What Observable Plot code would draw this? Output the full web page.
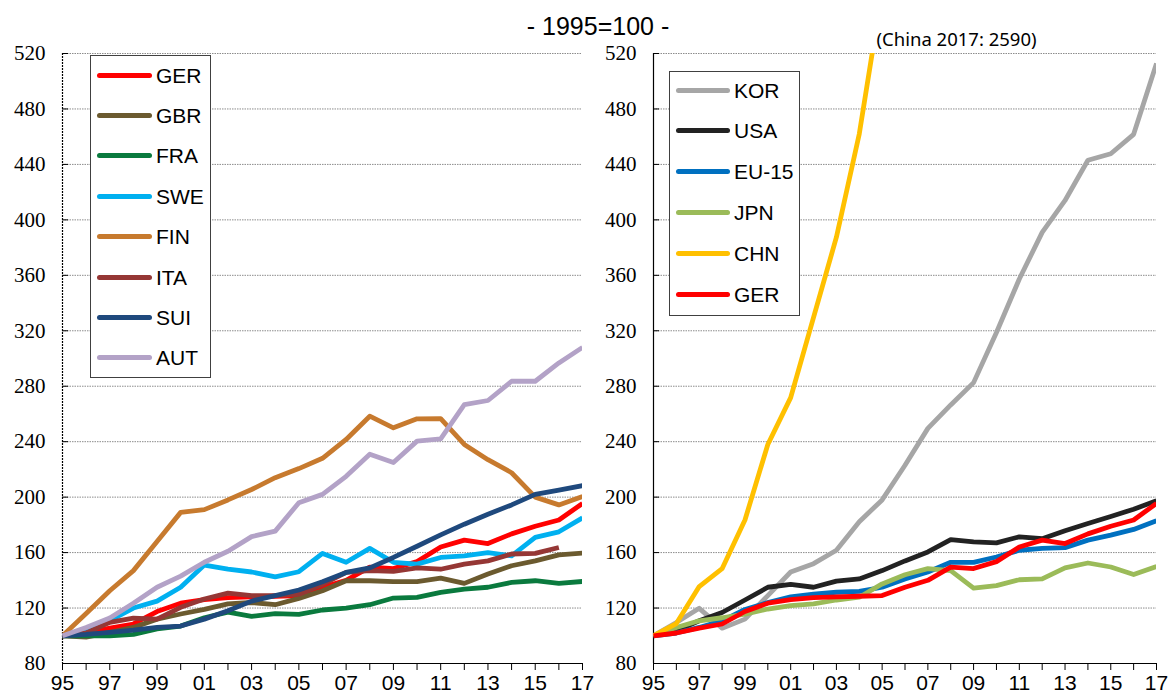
<!DOCTYPE html>
<html><head><meta charset="utf-8">
<script src="https://cdn.jsdelivr.net/npm/d3@7"></script>
<script src="https://cdn.jsdelivr.net/npm/@observablehq/plot@0.6"></script>
<style>
body{margin:0;background:#fff;font-family:"Liberation Sans",Arial,sans-serif;}
#wrap{position:relative;width:1172px;height:697px;overflow:hidden;background:#fff;}
#left{position:absolute;left:0;top:0;}
#right{position:absolute;left:600px;top:0;}
#title{position:absolute;top:14px;left:598px;transform:translateX(-50%);font-size:25px;line-height:25px;white-space:nowrap;color:#000;}
.legend{position:absolute;border:1px solid #404040;background:#fff;box-sizing:border-box;}
.row{display:flex;align-items:center;position:absolute;left:0;}
.sw{display:inline-block;height:5px;border-radius:3px;}
.lab{font-size:21px;line-height:21px;margin-left:4px;color:#000;}
</style></head><body>
<div id="wrap">
 <div id="left"></div><div id="right"></div>
 <div id="title">- 1995=100 -</div>
 <div id="legL" class="legend"></div><div id="legR" class="legend"></div>
</div>
<script>
const years = d3.range(1995, 2018);
const yTicks = d3.range(80, 521, 40);
const chinaNote = "(China 2017: 2590)";

// Left panel (index 1995 = 100)
const GER = [100,102,105.5,108.5,117.5,123.5,126,127.5,128,128.5,129,135,140,149.5,148.5,153.5,164,169,166.5,173.5,179,183.5,195.5];
const GBR = [100,99,102.5,106,112,115.7,119,123,124,122.4,127,132.5,139.7,139.7,139,139,141.6,137.8,144.5,150.5,154,158.4,159.6];
const FRA = [100,100,100,101,105,107,113,117,114,116,115.4,118.6,120,122.4,127.2,127.7,131.3,133.7,135,138.5,139.7,137.8,139.2];
const SWE = [100,105,111,120,125,135,151,148,146,142.5,146.2,159.4,153,163,153,151.7,156.5,157.7,160,157.7,171,175,185];
const FIN = [100,116,132.5,147,168,189,191,198,205.5,214,220.6,228,241.6,258.4,250,256.5,256.7,238,227,217.6,200,194.4,200.4];
const ITA = [100,102,109.7,112.8,112,120.5,126.5,130.8,129,129,130,137,145.7,147,146.4,149,148,151.7,154,159,159.4,163.7];
const SUI = [100,101,102.5,104,106,107,112,118,125,129,133,139,145.7,149,156.5,164.6,172.8,180.5,187.7,194.4,202,205,208.3];
const AUT = [100,106,112.8,123.4,135,143,153,161,171.5,175.5,196,202,215,231,225,240.4,242,266.8,269.7,283.6,283.6,296.8,308];

// Right panel
const KOR = [100,109.6,119.8,105.5,112,129,146,152,161.7,182.3,198,223,249.6,266.5,282.6,318.8,357.3,391,414,443,447.7,461.7,512.8];
const USA = [100,103.5,110.8,116.8,125.8,135,137,135,139.4,141,147,154,160.5,169.4,167.8,167,171.4,170,175.8,181,186,191.3,197.3];
const EU15 = [100,102,106,110.8,119,124,128,130,131.4,132,135,141,146,153,153,156.8,161.7,163,163.6,169,172.6,176.7,183];
const JPN = [100,106,110.8,113,115.6,119.3,121.7,123,125.8,127.8,137.4,144,148.4,147,134.3,136.2,140.4,141,149,152.5,149.6,144.2,150];
const CHN = [100,108.8,135.5,148.4,183.5,238,271.8,329.6,387.5,462,565];

const leftNames = ["GER","GBR","FRA","SWE","FIN","ITA","SUI","AUT"];
const leftValues = [GER,GBR,FRA,SWE,FIN,ITA,SUI,AUT];
const leftColors = ["#ff0000","#6b5a2f","#0a7a3e","#00b0f0","#c77a2e","#953735","#1f497d","#b3a2c7"];

const rightNames = ["KOR","USA","EU-15","JPN","CHN","GER"];
const rightValues = [KOR,USA,EU15,JPN,CHN,GER];
const rightColors = ["#a6a6a6","#222222","#0070c0","#9bbb59","#ffc000","#ff0000"];

function toRows(names, values){
  return names.flatMap((n,i)=> values[i].map((v,j)=>({series:n, year: years[j], value: v})));
}

const serif = '"Liberation Serif","Times New Roman",serif';
const sans = '"Liberation Sans",Arial,sans-serif';

function panel({names, values, colors, width, marginLeft, marginRight, axisDash, extra}) {
  const rows = toRows(names, values);
  const fw = width - marginLeft - marginRight;
  return Plot.plot({
    width, height: 697, marginTop: 53, marginBottom: 34, marginLeft, marginRight,
    x: {domain: [1995, 2017]},
    y: {domain: [80, 520]},
    color: {domain: names, range: colors},
    style: {background: "white", color: "black", overflow: "visible"},
    marks: [
      Plot.ruleY(yTicks.slice(1), {stroke: "#8c8c8c", strokeWidth: 1, strokeDasharray: "1.5,1"}),
      Plot.tickY(yTicks, {y: d => d, stroke: "#000", insetRight: fw - 6}),
      Plot.axisY({ticks: yTicks, tickSize: 0, tickPadding: 17, fontSize: 21, fontFamily: serif, label: null}),
      Plot.axisX({ticks: years, tickSize: 7, tickPadding: 5, tickFormat: d => d % 2 ? String(d).slice(2) : "", fontSize: 21, fontFamily: sans, label: null}),
      Plot.ruleX([1995], {stroke: "#000", strokeWidth: 1.2, strokeDasharray: axisDash}),
      Plot.ruleY([80], {stroke: "#000", strokeWidth: 1.2}),
      Plot.line(rows, {x: "year", y: "value", z: "series", stroke: "series", strokeWidth: 4.8, strokeLinejoin: "round", strokeLinecap: "butt", clip: true}),
      ...(extra || [])
    ]
  });
}

document.getElementById("left").append(panel({
  names: leftNames, values: leftValues, colors: leftColors,
  width: 600, marginLeft: 62, marginRight: 18, axisDash: "2,1"
}));
document.getElementById("right").append(panel({
  names: rightNames, values: rightValues, colors: rightColors,
  width: 572, marginLeft: 53, marginRight: 16, axisDash: null,
  extra: [Plot.text([chinaNote], {frameAnchor: "top-left", lineAnchor: "middle", text: d => d, textAnchor: "start", dx: 223, dy: -13, fontSize: 18.5, fontFamily: '"Noto Sans",sans-serif'})]
}));

function legend(id, names, colors, box, step, firstCenter, swLeft, swWidth) {
  const el = document.getElementById(id);
  Object.assign(el.style, {left: box[0] + "px", top: box[1] + "px", width: box[2] + "px", height: box[3] + "px"});
  names.forEach((n, i) => {
    const row = document.createElement("div");
    row.className = "row";
    row.style.top = (firstCenter + step * i - 12) + "px";
    row.style.height = "24px";
    row.style.left = swLeft + "px";
    const sw = document.createElement("span");
    sw.className = "sw";
    sw.style.width = swWidth + "px";
    sw.style.background = colors[i];
    const lab = document.createElement("span");
    lab.className = "lab";
    lab.textContent = n;
    row.append(sw, lab);
    el.append(row);
  });
}
legend("legL", leftNames, leftColors, [90, 55, 121, 323], 40.4, 19, 6, 55);
legend("legR", rightNames, rightColors, [669, 71, 131, 245], 40.8, 18, 6, 54);
</script>
</body></html>
